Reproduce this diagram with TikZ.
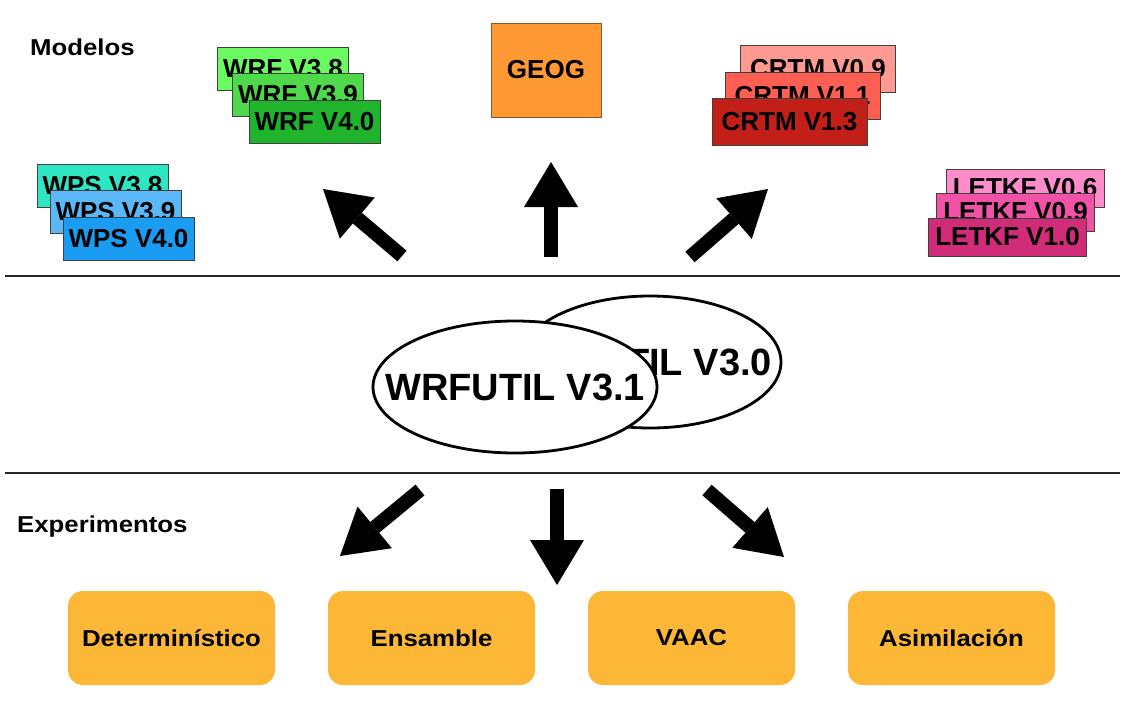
\documentclass[tikz,border=0pt]{standalone}
\usepackage{fontspec}
\setmainfont{Liberation Sans}
\newfontfamily\anchafont{Liberation Sans}[FakeStretch=1.12]
\usetikzlibrary{arrows.meta,shapes.geometric}

% colores de las versiones
\definecolor{wpsA}{HTML}{2EE6C2}
\definecolor{wpsB}{HTML}{5AB8F8}
\definecolor{wpsC}{HTML}{1A9CF2}
\definecolor{wrfA}{HTML}{6CFA62}
\definecolor{wrfB}{HTML}{4ED84A}
\definecolor{wrfC}{HTML}{20B42C}
\definecolor{crtmA}{HTML}{FF9A92}
\definecolor{crtmB}{HTML}{FF5E52}
\definecolor{crtmC}{HTML}{C21F18}
\definecolor{letkfA}{HTML}{FF8CCB}
\definecolor{letkfB}{HTML}{F052A6}
\definecolor{letkfC}{HTML}{D12C7A}
\definecolor{geogcol}{HTML}{FF9933}
\definecolor{expcol}{HTML}{FCB736}

\begin{document}
\begin{tikzpicture}[x=1pt, y=-1pt,
	verbox/.style={draw=black!75, line width=0.8pt, minimum width=131pt, minimum height=43pt, inner sep=0pt, font=\fontsize{26}{26}\selectfont\bfseries},
	expbox/.style={fill=expcol, rounded corners=15pt, minimum width=207pt, minimum height=94pt, inner sep=0pt, font=\anchafont\fontsize{23}{23}\selectfont\bfseries},
	utilbox/.style={ellipse, draw, line width=2.8pt, fill=white, inner sep=0pt, minimum height=132pt, font=\fontsize{38}{38}\selectfont\bfseries},
	fatarrow/.style={line width=14pt, -{Triangle[length=45pt, width=54pt, line width=0pt]}},
	titulo/.style={anchor=west, inner sep=0pt, font=\anchafont\fontsize{23}{23}\selectfont\bfseries}]
	\useasboundingbox (0,0) rectangle (1125,725);

	% Titulos
	\node[titulo] (modelos) at (30,47) {Modelos};
	\node[titulo] (experimentos) at (17,527) {Experimentos};

	% Separadores
	\draw[line width=1.5pt, black!85] (5,276) -- (1120,276);
	\draw[line width=1.5pt, black!85] (5,473) -- (1120,473);

	% WPS
	\node[verbox, fill=wpsA] (wps38) at (102.5,185.5) {WPS V3.8};
	\node[verbox, fill=wpsB] (wps39) at (115.5,212) {WPS V3.9};
	\node[verbox, fill=wpsC] (wps40) at (128.5,239) {WPS V4.0};

	% WRF
	\node[verbox, fill=wrfA] (wrf38) at (283,68.5) {WRF V3.8};
	\node[verbox, fill=wrfB] (wrf39) at (298,95) {WRF V3.9};
	\node[verbox, fill=wrfC] (wrf40) at (314.5,121.5) {WRF V4.0};

	% GEOG
	\node[verbox, fill=geogcol, draw=brown!70!black, minimum width=110pt, minimum height=94pt] (geog) at (546,70) {GEOG};

	% CRTM
	\node[verbox, fill=crtmA, minimum width=155pt, minimum height=47pt] (crtm09) at (818,68.5) {CRTM V0.9};
	\node[verbox, fill=crtmB, minimum width=155pt, minimum height=47pt] (crtm11) at (802.5,95.5) {CRTM V1.1};
	\node[verbox, fill=crtmC, minimum width=155pt, minimum height=47pt] (crtm13) at (789.5,121.5) {CRTM V1.3};

	% LETKF
	\node[verbox, fill=letkfA, minimum width=158pt, minimum height=38pt] (letkf06) at (1025,188) {LETKF V0.6};
	\node[verbox, fill=letkfB, minimum width=158pt, minimum height=38pt] (letkf09) at (1015.5,212) {LETKF V0.9};
	\node[verbox, fill=letkfC, minimum width=158pt, minimum height=38pt] (letkf10) at (1007.5,237) {LETKF V1.0};

	% WRFUTIL
	\node[utilbox, minimum width=262pt] (util30) at (650,362) {\makebox[0pt]{\hspace*{-16pt}WRFUTIL V3.0}};
	\node[utilbox, minimum width=284pt] (util31) at (515,387) {\makebox[0pt]{WRFUTIL V3.1}};

	% Flechas hacia los modelos
	\coordinate (upL) at (402,256);
	\coordinate (upLtip) at (323,189);
	\coordinate (upC) at (551,257);
	\coordinate (upCtip) at (551,162);
	\coordinate (upR) at (690,257);
	\coordinate (upRtip) at (768,189);
	\draw[fatarrow] (upL) -- (upLtip);
	\draw[fatarrow] (upC) -- (upCtip);
	\draw[fatarrow] (upR) -- (upRtip);

	% Flechas hacia los experimentos
	\coordinate (dnL) at (420,490);
	\coordinate (dnLtip) at (340,556);
	\coordinate (dnC) at (557,489);
	\coordinate (dnCtip) at (557,585);
	\coordinate (dnR) at (707,490);
	\coordinate (dnRtip) at (784,557);
	\draw[fatarrow] (dnL) -- (dnLtip);
	\draw[fatarrow] (dnC) -- (dnCtip);
	\draw[fatarrow] (dnR) -- (dnRtip);

	% Experimentos
	\node[expbox] (determ) at (171.5,638) {Determinístico};
	\node[expbox] (ensamble) at (431.5,638) {Ensamble};
	\node[expbox] (vaac) at (691.5,638) {VAAC};
	\node[expbox] (asim) at (951.5,638) {Asimilación};

\end{tikzpicture}
\end{document}
